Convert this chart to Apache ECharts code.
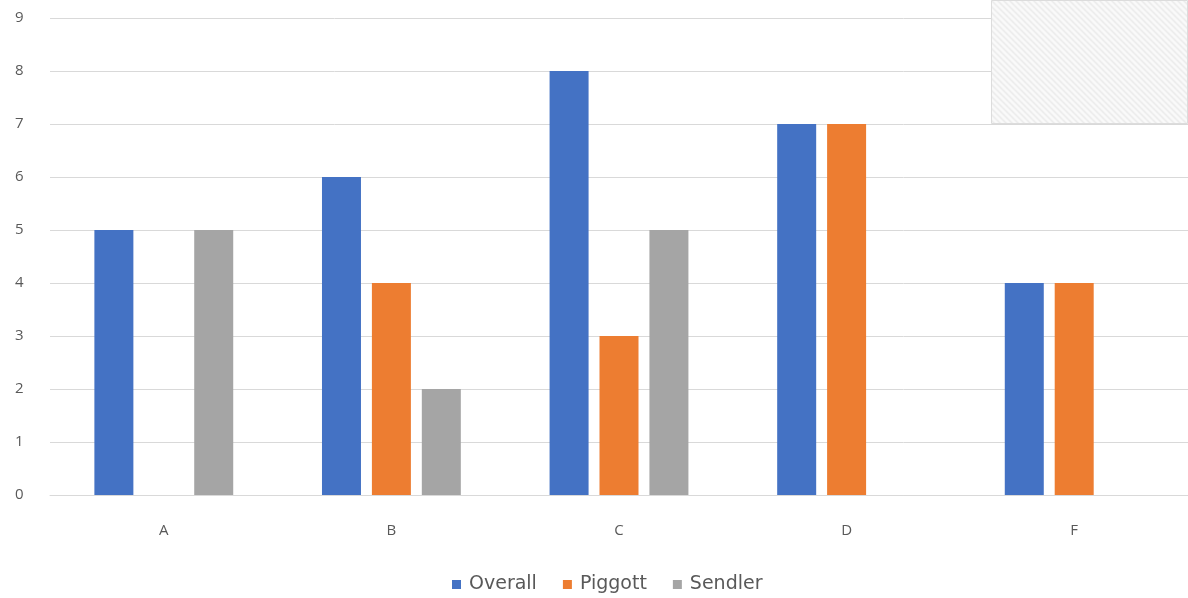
<!DOCTYPE html>
<html>
<head>
<meta charset="utf-8">
<script src="https://cdn.jsdelivr.net/npm/echarts@6/dist/echarts.min.js"></script>
<style>
  html, body { margin: 0; padding: 0; background: #fff; }
  #chart { width: 1188px; height: 598px; }
</style>
</head>
<body>
<div id="chart"></div>
<script>
// Grades per category for each rater
const categories = ['A', 'B', 'C', 'D', 'F'];
const overall = [5, 6, 8, 7, 4];
const piggott = [null, 4, 3, 7, 4];
const sendler = [5, 2, 5, null, null];
const yTicks = [0, 1, 2, 3, 4, 5, 6, 7, 8, 9];

// light diagonal hatch used for the panel in the upper right corner
function hatchPattern() {
  const c = document.createElement('canvas');
  c.width = 6; c.height = 6;
  const g = c.getContext('2d');
  g.fillStyle = '#fafafa';
  g.fillRect(0, 0, 6, 6);
  g.strokeStyle = '#e6e6e6';
  g.lineWidth = 1.2;
  g.beginPath();
  g.moveTo(0, 0); g.lineTo(6, 6);
  g.moveTo(-3, 3); g.lineTo(3, 9);
  g.moveTo(3, -3); g.lineTo(9, 3);
  g.stroke();
  return { image: c, repeat: 'repeat' };
}

const chart = echarts.init(document.getElementById('chart'));
const font = '"Open Sans", "Liberation Sans", sans-serif';

chart.setOption({
  animation: false,
  textStyle: { fontFamily: font },
  color: ['#4472C4', '#ED7D31', '#A5A5A5'],
  grid: { left: 50, right: 0, top: 18, bottom: 103, containLabel: false },
  legend: {
    top: 570,
    left: 447,
    itemWidth: 9,
    itemHeight: 9,
    itemGap: 26,
    icon: 'rect',
    textStyle: { color: '#595959', fontSize: 19, fontFamily: '"DejaVu Sans", sans-serif', padding: [0, 0, 0, 3] },
    data: ['Overall', 'Piggott', 'Sendler']
  },
  xAxis: {
    type: 'category',
    data: categories,
    axisLine: { lineStyle: { color: '#d9d9d9', width: 1 } },
    axisTick: { show: false },
    axisLabel: { color: '#595959', fontSize: 15, margin: 28 }
  },
  yAxis: {
    type: 'value',
    min: yTicks[0],
    max: yTicks[yTicks.length - 1],
    interval: 1,
    axisLine: { show: false },
    axisTick: { show: false },
    axisLabel: { color: '#595959', fontSize: 15, margin: 35, align: 'left',
      formatter: v => String(v) },
    splitLine: { lineStyle: { color: '#d9d9d9', width: 1 } }
  },
  series: [
    { name: 'Overall', type: 'bar', data: overall, barWidth: 39, barGap: '28%' },
    { name: 'Piggott', type: 'bar', data: piggott, barWidth: 39, barGap: '28%' },
    { name: 'Sendler', type: 'bar', data: sendler, barWidth: 39, barGap: '28%' }
  ],
  graphic: [
    {
      type: 'rect',
      right: 0,
      top: 0,
      z: 100,
      shape: { width: 196, height: 123 },
      style: { fill: hatchPattern(), stroke: '#dcdcdc', lineWidth: 1 }
    }
  ]
});
</script>
</body>
</html>
